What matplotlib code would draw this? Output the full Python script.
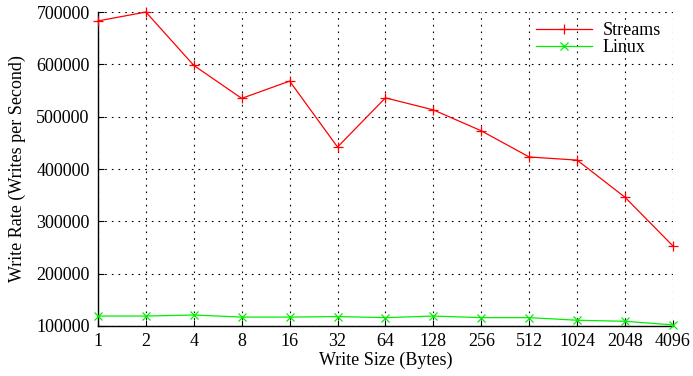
import matplotlib.pyplot as plt

sizes = ["1", "2", "4", "8", "16", "32", "64", "128", "256", "512", "1024", "2048", "4096"]
streams = [683000, 700000, 598000, 535000, 568000, 442000, 536000, 513000, 473000,
           423000, 417000, 346000, 253000]
linux = [119000, 119000, 121000, 117000, 117000, 118000, 116000, 119000, 116000,
         116000, 111000, 109000, 102000]

plt.rcParams["font.family"] = ["Liberation Serif", "DejaVu Serif"]
plt.rcParams["font.size"] = 13

fig = plt.figure(figsize=(6.93, 3.76), dpi=100)
ax = fig.add_axes([0.1414, 0.133, 0.8296, 0.835])

pos = list(range(len(sizes)))
ax.plot(pos, streams, color="#ff0000", lw=0.9, marker="+", ms=6.5, mew=0.9,
        label="Streams", clip_on=False, zorder=3)
ax.plot(pos, linux, color="#00ee00", lw=0.9, marker="x", ms=5.5, mew=0.9,
        label="Linux", clip_on=False, zorder=3)

ax.set_xlim(0, len(sizes) - 1)
ax.set_ylim(100000, 700000)
ax.set_xticks(pos)
ax.set_xticklabels(sizes)
ax.set_yticks(range(100000, 700001, 100000))
ax.tick_params(direction="in", length=4, width=0.8, pad=6)
ax.tick_params(axis="x", pad=5)

ax.grid(True, color="k", linestyle=(0, (1.5, 4.5)), lw=0.8)
for side in ("top", "right"):
    ax.spines[side].set_visible(False)
for side in ("left", "bottom"):
    ax.spines[side].set_linewidth(1.0)

ax.set_xlabel("Write Size (Bytes)", labelpad=1)
ax.set_ylabel("Write Rate (Writes per Second)", labelpad=7)

ax.legend(loc="upper right", bbox_to_anchor=(1.004, 1.013), frameon=False,
          handlelength=3.1, handletextpad=0.6, labelspacing=0.0, numpoints=1,
          borderpad=0.3)

fig.savefig("out.png")
